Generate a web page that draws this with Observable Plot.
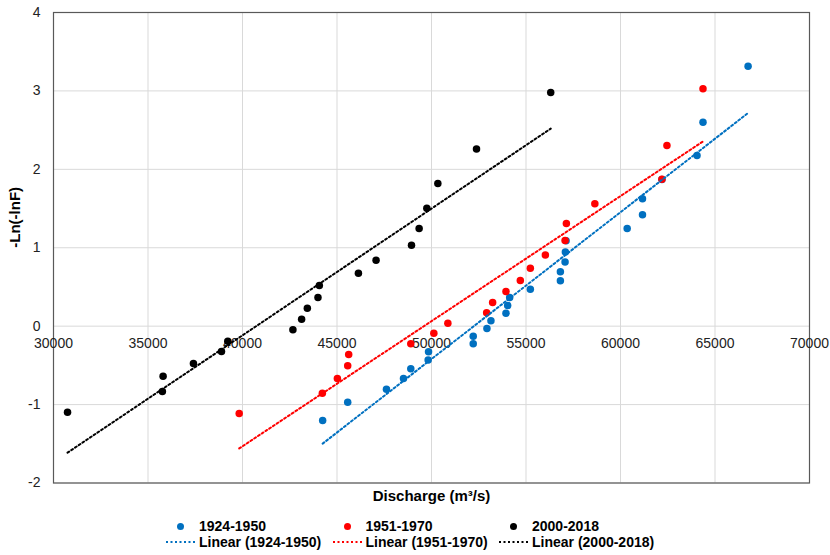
<!DOCTYPE html>
<html>
<head>
<meta charset="utf-8">
<script src="https://cdn.jsdelivr.net/npm/d3@7"></script>
<script src="https://cdn.jsdelivr.net/npm/@observablehq/plot@0.6"></script>
<style>
  body { margin: 0; background: #fff; font-family: "Liberation Sans", Arial, sans-serif; }
  #wrap { width: 830px; height: 555px; position: relative; }
  .legend { position: absolute; left: 166px; font-weight: bold; font-size: 14px; color: #000; }
  .row { display: flex; height: 16px; align-items: center; }
  .item { width: 166.5px; display: flex; align-items: center; }
  .sw { width: 29px; height: 16px; margin-right: 4px; display: flex; align-items: center; justify-content: center; }
  .dot { width: 7px; height: 7px; border-radius: 50%; }
  .sw svg { display: block; }
</style>
</head>
<body>
<div id="wrap"></div>
<script>
// Series names
const seriesNames = ["1924-1950", "1951-1970", "2000-2018"];
const seriesColors = ["#0070C0", "#FF0000", "#000000"];

// 1924-1950
const blueX = [44241, 45566, 47617, 48518, 48905, 49823, 49844, 52208, 52208, 52933, 53145, 53940, 54030, 54136, 55229, 56819, 56819, 57067, 57083, 57120, 60353, 61164, 61164, 62192, 64047, 64365, 66750];
const blueY = [-1.204, -0.970, -0.804, -0.666, -0.544, -0.432, -0.327, -0.225, -0.127, -0.029, 0.068, 0.166, 0.265, 0.367, 0.471, 0.580, 0.695, 0.817, 0.947, 1.089, 1.246, 1.422, 1.626, 1.870, 2.178, 2.602, 3.314];

// 1951-1970
const redX = [39826, 44225, 45020, 45566, 45619, 48905, 50124, 50866, 52917, 53235, 53940, 54700, 55229, 56024, 57067, 57136, 58642, 62192, 62457, 64365];
const redY = [-1.114, -0.854, -0.667, -0.505, -0.361, -0.225, -0.089, 0.038, 0.171, 0.302, 0.443, 0.583, 0.740, 0.906, 1.093, 1.310, 1.561, 1.875, 2.305, 3.028];

// 2000-2018
const blackX = [30742, 35761, 35798, 37404, 38888, 39222, 42667, 43128, 43430, 43993, 44066, 46133, 47067, 48942, 49345, 49753, 50336, 52382, 56308];
const blackY = [-1.097, -0.833, -0.638, -0.476, -0.323, -0.191, -0.046, 0.089, 0.230, 0.366, 0.519, 0.676, 0.842, 1.033, 1.246, 1.505, 1.820, 2.258, 2.981];

// Axes
const xTicks = [30000, 35000, 40000, 45000, 50000, 55000, 60000, 65000, 70000];
const yTicks = [-2, -1, 0, 1, 2, 3, 4];
const xAxisCrossing = 0;
const xTitle = "Discharge (m³/s)";
const yTitle = "-Ln(-lnF)";

const toRows = (xs, ys) => xs.map((x, i) => ({x, y: ys[i]}));
const series = [toRows(blueX, blueY), toRows(redX, redY), toRows(blackX, blackY)];

const dash = "2,2.5";
const font = '"Liberation Sans", Arial, sans-serif';

const chart = Plot.plot({
  width: 830,
  height: 510,
  marginLeft: 53,
  marginRight: 21,
  marginTop: 12,
  marginBottom: 27.5,
  style: { fontFamily: font, fontSize: "14px", color: "#222", background: "#fff" },
  x: { domain: [30000, 70000], axis: null },
  y: { domain: [-2, 4], axis: null },
  marks: [
    Plot.gridX(xTicks, { stroke: "#d9d9d9", strokeOpacity: 1, strokeWidth: 1 }),
    Plot.gridY(yTicks, { stroke: "#d9d9d9", strokeOpacity: 1, strokeWidth: 1 }),
    Plot.frame({ stroke: "#595959", strokeWidth: 1.2 }),
    Plot.axisY(yTicks, { tickSize: 0, tickPadding: 13, label: null, tickFormat: d => String(d), fontSize: 14, fill: "#222" }),
    Plot.text(xTicks, { x: d => d, y: () => xAxisCrossing, dy: 17, text: d => String(d), fontSize: 14, fill: "#222" }),
    Plot.text([xTitle], { frameAnchor: "bottom", dy: 17.5, text: d => d, fontWeight: "bold", fontSize: 15, fill: "#000" }),
    Plot.text([yTitle], { frameAnchor: "left", dx: -38, rotate: -90, text: d => d, fontWeight: "bold", fontSize: 15, fill: "#000" }),
    ...series.map((s, i) => Plot.dot(s, { x: "x", y: "y", r: 3.75, fill: seriesColors[i], stroke: "none" })),
    ...series.map((s, i) => Plot.linearRegressionY(s, { x: "x", y: "y", ci: 0, stroke: seriesColors[i], strokeWidth: 2, strokeDasharray: dash }))
  ]
});

const wrap = document.getElementById("wrap");
chart.style.position = "absolute";
chart.style.left = "0";
chart.style.top = "0";
wrap.appendChild(chart);

const legend = document.createElement("div");
legend.className = "legend";
legend.style.top = "518px";
const row1 = document.createElement("div");
row1.className = "row";
const row2 = document.createElement("div");
row2.className = "row";
seriesNames.forEach((name, i) => {
  const a = document.createElement("div");
  a.className = "item";
  a.innerHTML = `<span class="sw"><span class="dot" style="background:${seriesColors[i]}"></span></span><span>${name}</span>`;
  row1.appendChild(a);
  const b = document.createElement("div");
  b.className = "item";
  b.innerHTML = `<span class="sw"><svg width="29" height="4"><line x1="0" y1="2" x2="29" y2="2" stroke="${seriesColors[i]}" stroke-width="2" stroke-dasharray="${dash}"/></svg></span><span>Linear (${name})</span>`;
  row2.appendChild(b);
});
legend.appendChild(row1);
legend.appendChild(row2);
wrap.appendChild(legend);
</script>
</body>
</html>
